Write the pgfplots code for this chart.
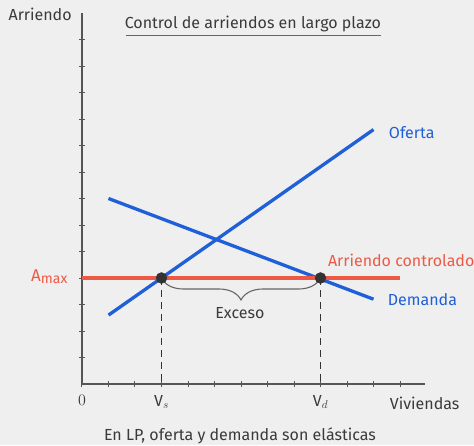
\RequirePackage{fix-cm}
\documentclass[border=0pt]{standalone}
\usepackage{pgfplots}
\pgfplotsset{compat=1.18}
\usepackage{fontspec}
\setmainfont{Fira Sans}
\usetikzlibrary{decorations.pathreplacing}
\definecolor{bgc}{HTML}{EFEFEF}
\definecolor{axc}{HTML}{555555}
\definecolor{txc}{HTML}{3A3A3A}
\definecolor{bluec}{HTML}{1F5FD8}
\definecolor{redc}{HTML}{EC5A46}
\definecolor{dotc}{HTML}{333333}
\definecolor{brc}{HTML}{666666}
\newcommand{\fs}{\fontsize{16}{19}\selectfont}
\begin{document}
\begin{tikzpicture}
\fill[bgc] (-82pt,-61pt) rectangle (392pt,384pt);
\path[use as bounding box] (-82pt,-61pt) rectangle (392pt,384pt);
\begin{axis}[
 at={(0,0)}, anchor=origin,
 x=26.5pt, y=26.5pt,
 xmin=0, xmax=12.95, ymin=0, ymax=14,
 axis lines=left,
 axis line style={draw=axc, line width=1.2pt, -},
 xtick={0,...,12}, ytick={1,...,13},
 xticklabels={{\fs$0$},,,{\fs V$_s$},,,,,,{\fs V$_d$},,,},
 yticklabels={},
 tick align=center, major tick length=6pt,
 tick style={axc, line width=1pt},
 xticklabel style={text=txc, yshift=-5pt},
 clip=false,
]
% supply
\addplot[bluec, line width=3.3pt] coordinates {(1,2.6) (11,9.6)};
% demand
\addplot[bluec, line width=3.3pt] coordinates {(1,7.0) (11,3.2)};
% rent control
\addplot[redc, line width=3.3pt] coordinates {(0,4) (12,4)};
% dashed drop lines
\addplot[dotc, line width=1pt, dash pattern=on 7pt off 5pt] coordinates {(3,4) (3,0)};
\addplot[dotc, line width=1pt, dash pattern=on 7pt off 5pt] coordinates {(9,4) (9,0)};
% brace
\draw[brc, line width=1.1pt, decorate, decoration={brace, amplitude=22pt}] (axis cs:9,4) -- (axis cs:3,4);
% dots
\addplot[only marks, mark=*, mark size=5.5pt, dotc] coordinates {(3,4) (9,4)};
% labels
\node[text=txc, font=\fs] at (axis cs:-1.58,13.96) {Arriendo};
\node[text=txc, font=\fs] at (axis cs:6.45,13.58) {Control de arriendos en largo plazo};
\draw[draw=brc, line width=1.5pt] (axis cs:1.66,13.15) -- (axis cs:11.28,13.15);
\node[anchor=west, text=bluec, font=\fs] at (axis cs:11.45,9.47) {Oferta};
\node[anchor=west, text=redc, font=\fs] at (axis cs:9.15,4.68) {Arriendo controlado};
\node[anchor=west, text=bluec, font=\fs] at (axis cs:11.41,3.17) {Demanda};
\node[anchor=east, text=redc, font=\fontsize{17}{19}\selectfont] at (axis cs:-0.42,4.05) {A\raisebox{-0.3ex}{\fontsize{14}{16}\selectfont max}};
\node[text=txc, font=\fs] at (axis cs:5.96,2.68) {Exceso};
\node[text=txc, font=\fs] at (axis cs:12.93,-0.72) {Viviendas};
\node[text=txc, font=\fs] at (axis cs:5.96,-1.96) {En LP, oferta y demanda son elásticas};
\end{axis}
\end{tikzpicture}
\end{document}
